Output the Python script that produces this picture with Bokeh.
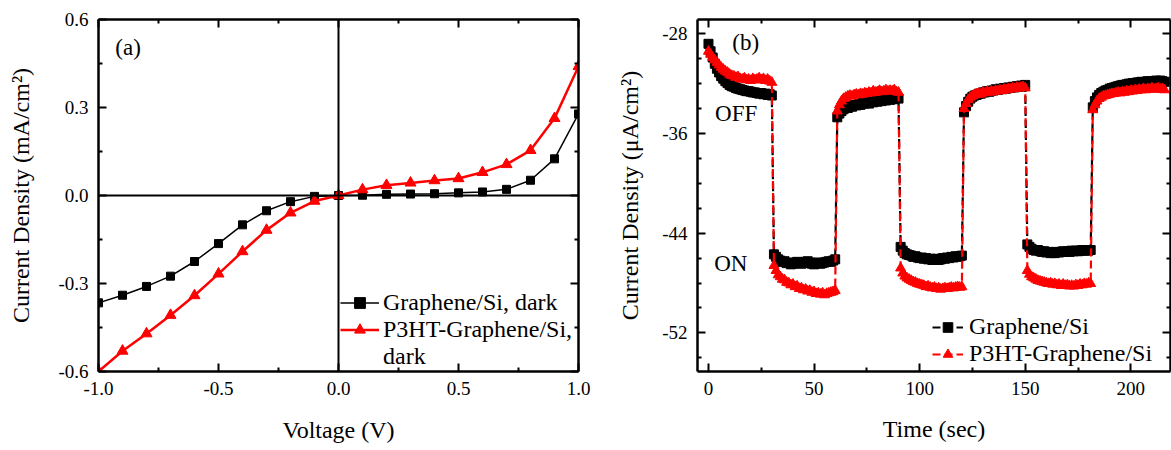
from bokeh.plotting import figure
from bokeh.layouts import row
from bokeh.models import (LinearAxis, Range1d, FixedTicker, PrintfTickFormatter,
                          Span, Label, Legend, LegendItem)
from bokeh.embed import file_html
from bokeh.resources import INLINE

FONT = "Liberation Serif"

# ---------------- panel (a) data ----------------
voltage = [-1.0, -0.9, -0.8, -0.7, -0.6, -0.5, -0.4, -0.3, -0.2, -0.1, 0.0,
           0.1, 0.2, 0.3, 0.4, 0.5, 0.6, 0.7, 0.8, 0.9, 1.0]
graphene_dark = [-0.366, -0.340, -0.310, -0.275, -0.225, -0.164, -0.100, -0.052, -0.021, -0.003, 0.0,
                 0.001, 0.004, 0.005, 0.006, 0.009, 0.012, 0.021, 0.052, 0.125, 0.278]
p3ht_dark = [-0.600, -0.530, -0.471, -0.408, -0.341, -0.267, -0.191, -0.118, -0.059, -0.019, 0.0,
             0.020, 0.035, 0.043, 0.051, 0.058, 0.079, 0.106, 0.154, 0.263, 0.440]
v_ticks = [-1.0, -0.5, 0.0, 0.5, 1.0]
v_minor = [-0.75, -0.25, 0.25, 0.75]
ja_ticks = [-0.6, -0.3, 0.0, 0.3, 0.6]
ja_minor = [-0.45, -0.15, 0.15, 0.45]

# ---------------- panel (b) data (1 s sampling) ----------------
graphene_si = [
    # OFF 0-30 s
    -28.8, -29.4, -29.9, -30.4, -30.8, -31.1, -31.4, -31.6, -31.8, -31.95,
    -32.1, -32.2, -32.25, -32.35, -32.4, -32.45, -32.5, -32.55, -32.6, -32.6,
    -32.65, -32.7, -32.7, -32.75, -32.8, -32.75, -32.85, -32.8, -32.9, -32.85, -32.95,
    # ON 31-60 s
    -45.7, -45.9, -46.1, -46.2, -46.3, -46.25, -46.4, -46.35, -46.5, -46.45,
    -46.4, -46.3, -46.35, -46.45, -46.4, -46.3, -46.25, -46.35, -46.45, -46.5,
    -46.4, -46.35, -46.45, -46.4, -46.35, -46.3, -46.25, -46.3, -46.2, -46.1,
    # OFF 61-90 s
    -34.7, -34.4, -34.2, -34.05, -33.95, -33.95, -33.8, -33.85, -33.7, -33.75,
    -33.65, -33.7, -33.55, -33.6, -33.5, -33.6, -33.45, -33.5, -33.4, -33.45,
    -33.35, -33.4, -33.3, -33.35, -33.25, -33.3, -33.2, -33.25, -33.15, -33.2,
    # ON 91-120 s
    -45.1, -45.4, -45.6, -45.7, -45.75, -45.8, -45.9, -45.85, -45.95, -46.0,
    -45.95, -46.05, -46.0, -46.1, -46.05, -46.15, -46.1, -46.05, -46.15, -46.1,
    -46.0, -46.05, -45.95, -46.0, -45.9, -45.95, -45.85, -45.9, -45.85, -45.8,
    # OFF 121-150 s
    -34.3, -33.8, -33.45, -33.2, -33.05, -32.95, -32.9, -32.8, -32.8, -32.7,
    -32.7, -32.6, -32.65, -32.55, -32.55, -32.45, -32.5, -32.4, -32.45, -32.35,
    -32.4, -32.3, -32.35, -32.25, -32.3, -32.2, -32.25, -32.15, -32.2, -32.1,
    # ON 151-181 s
    -44.9, -45.1, -45.25, -45.35, -45.4, -45.35, -45.45, -45.5, -45.45, -45.55,
    -45.5, -45.6, -45.55, -45.6, -45.5, -45.55, -45.5, -45.45, -45.5, -45.45,
    -45.5, -45.4, -45.45, -45.4, -45.45, -45.4, -45.35, -45.4, -45.35, -45.4, -45.35,
    # OFF 182-216 s
    -33.9, -33.4, -33.1, -32.9, -32.75, -32.65, -32.55, -32.5, -32.4, -32.35,
    -32.3, -32.25, -32.2, -32.15, -32.1, -32.1, -32.05, -32.0, -32.0, -31.95,
    -31.95, -31.9, -31.9, -31.85, -31.9, -31.85, -31.8, -31.85, -31.8, -31.8,
    -31.75, -31.8, -31.75, -31.8, -31.85,
]
p3ht_si = [
    # OFF 0-30 s
    -29.4, -29.65, -29.9, -30.1, -30.3, -30.5, -30.7, -30.85, -31.0, -31.1,
    -31.25, -31.35, -31.4, -31.5, -31.45, -31.6, -31.65, -31.55, -31.7, -31.65,
    -31.75, -31.6, -31.7, -31.65, -31.55, -31.7, -31.6, -31.75, -31.65, -31.8, -31.9,
    # ON 31-60 s
    -46.6, -47.0, -47.35, -47.5, -47.7, -47.75, -47.95, -48.0, -48.15, -48.1,
    -48.3, -48.25, -48.45, -48.4, -48.55, -48.5, -48.65, -48.6, -48.75, -48.7,
    -48.85, -48.8, -48.9, -48.8, -48.95, -48.85, -48.8, -48.75, -48.7, -48.6,
    # OFF 61-90 s
    -34.2, -33.7, -33.4, -33.2, -33.1, -33.0, -32.95, -33.0, -32.9, -32.85,
    -32.9, -32.8, -32.85, -32.75, -32.8, -32.7, -32.75, -32.6, -32.7, -32.65,
    -32.55, -32.65, -32.6, -32.5, -32.6, -32.55, -32.6, -32.5, -32.65, -32.7,
    # ON 91-120 s
    -46.8, -47.2, -47.45, -47.6, -47.7, -47.8, -47.9, -47.95, -48.05, -48.1,
    -48.15, -48.2, -48.3, -48.25, -48.35, -48.4, -48.35, -48.45, -48.4, -48.5,
    -48.45, -48.4, -48.45, -48.4, -48.35, -48.4, -48.35, -48.3, -48.35, -48.3,
    # OFF 121-150 s
    -34.0, -33.6, -33.3, -33.1, -33.0, -32.9, -32.85, -32.8, -32.85, -32.7,
    -32.75, -32.65, -32.7, -32.6, -32.65, -32.55, -32.6, -32.5, -32.55, -32.45,
    -32.5, -32.4, -32.45, -32.35, -32.4, -32.3, -32.35, -32.3, -32.25, -32.35,
    # ON 151-181 s
    -47.0, -47.3, -47.5, -47.6, -47.7, -47.8, -47.85, -47.9, -47.95, -48.0,
    -48.05, -48.0, -48.1, -48.05, -48.15, -48.1, -48.2, -48.1, -48.2, -48.15,
    -48.25, -48.2, -48.25, -48.15, -48.2, -48.1, -48.15, -48.05, -48.1, -48.0, -48.05,
    # OFF 182-216 s
    -34.1, -33.7, -33.4, -33.2, -33.1, -33.0, -32.95, -32.9, -32.85, -32.8,
    -32.8, -32.75, -32.7, -32.75, -32.65, -32.7, -32.6, -32.65, -32.55, -32.6,
    -32.5, -32.55, -32.45, -32.5, -32.4, -32.5, -32.4, -32.45, -32.35, -32.45,
    -32.4, -32.35, -32.45, -32.4, -32.5,
]
time_black = list(range(len(graphene_si)))
time_red = list(range(len(p3ht_si)))
t_ticks = [0, 50, 100, 150, 200]
t_minor = [25, 75, 125, 175]
jb_ticks = [-52, -44, -36, -28]
jb_minor = [-54, -50, -48, -46, -42, -40, -38, -34, -32, -30]


def style_axis(ax, show_labels=True):
    ax.axis_line_width = 2.5
    ax.axis_line_color = "black"
    ax.major_tick_in = 8
    ax.major_tick_out = 0
    ax.minor_tick_in = 4
    ax.minor_tick_out = 0
    ax.major_tick_line_width = 2
    ax.minor_tick_line_width = 2
    ax.major_label_text_font = FONT
    ax.axis_label_text_font = FONT
    ax.axis_label_text_font_style = "normal"
    ax.axis_label_text_color = "black"
    ax.axis_label_text_font_size = "24px"
    if show_labels:
        ax.major_label_text_color = "black"
        ax.major_label_text_font_size = "19px"
        ax.major_label_standoff = 10
    else:
        # mirror axis: ticks only, labels not drawn
        ax.major_label_text_color = None
        ax.major_label_text_font_size = "1px"
        ax.major_label_standoff = 0


# ---------------- figure (a) ----------------
pa = figure(width=600, height=450, output_backend="svg", toolbar_location=None,
            x_range=Range1d(-1.0, 1.0), y_range=Range1d(-0.6, 0.6),
            min_border_left=98, min_border_right=22, min_border_top=19, min_border_bottom=76,
            x_axis_location=None, y_axis_location=None)
pa.outline_line_color = None
pa.grid.visible = False

xt = FixedTicker(ticks=v_ticks, minor_ticks=v_minor)
yt = FixedTicker(ticks=ja_ticks, minor_ticks=ja_minor)
ax_b = LinearAxis(ticker=xt, formatter=PrintfTickFormatter(format="%.1f"), axis_label="Voltage (V)")
ax_l = LinearAxis(ticker=yt, formatter=PrintfTickFormatter(format="%.1f"),
                  axis_label="Current Density (mA/cm²)")
ax_t = LinearAxis(ticker=xt)
ax_r = LinearAxis(ticker=yt)
style_axis(ax_b); style_axis(ax_l)
style_axis(ax_t, False); style_axis(ax_r, False)
ax_b.axis_label_standoff = 19
ax_l.axis_label_standoff = 21
pa.add_layout(ax_b, "below"); pa.add_layout(ax_l, "left")
pa.add_layout(ax_t, "above"); pa.add_layout(ax_r, "right")

pa.add_layout(Span(location=0, dimension="height", line_color="black", line_width=2))
pa.add_layout(Span(location=0, dimension="width", line_color="black", line_width=2))

la1 = pa.line(voltage, graphene_dark, line_color="black", line_width=1.5)
sa1 = pa.scatter(voltage, graphene_dark, marker="square", size=8, color="black")
la2 = pa.line(voltage, p3ht_dark, line_color="red", line_width=2.5)
sa2 = pa.scatter(voltage, p3ht_dark, marker="triangle", size=11, color="red")
dummy_a = pa.line(x=[], y=[], line_alpha=0)

leg_a = Legend(items=[LegendItem(label="Graphene/Si, dark", renderers=[la1, sa1]),
                      LegendItem(label="P3HT-Graphene/Si,", renderers=[la2, sa2]),
                      LegendItem(label="dark", renderers=[dummy_a])],
               location=(242, 1), background_fill_alpha=0, border_line_alpha=0,
               padding=0, margin=0, spacing=0, glyph_width=39, glyph_height=27,
               label_height=27, label_standoff=4, label_text_font=FONT,
               label_text_font_size="24px", label_text_color="black")
pa.add_layout(leg_a)
pa.add_layout(Label(x=-0.93, y=0.505, text="(a)", text_font=FONT, text_font_size="23px",
                    text_baseline="middle", text_color="black"))

# ---------------- figure (b) ----------------
pb = figure(width=571, height=450, output_backend="svg", toolbar_location=None,
            x_range=Range1d(-5.2, 218.8), y_range=Range1d(-55.1, -26.85),
            min_border_left=97, min_border_right=1, min_border_top=19, min_border_bottom=79,
            x_axis_location=None, y_axis_location=None)
pb.outline_line_color = None
pb.grid.visible = False

xt2 = FixedTicker(ticks=t_ticks, minor_ticks=t_minor)
yt2 = FixedTicker(ticks=jb_ticks, minor_ticks=jb_minor)
bx_b = LinearAxis(ticker=xt2, formatter=PrintfTickFormatter(format="%d"), axis_label="Time (sec)")
bx_l = LinearAxis(ticker=yt2, formatter=PrintfTickFormatter(format="%d"),
                  axis_label="Current Density (μA/cm²)")
bx_t = LinearAxis(ticker=xt2)
bx_r = LinearAxis(ticker=yt2)
style_axis(bx_b); style_axis(bx_l)
style_axis(bx_t, False); style_axis(bx_r, False)
bx_b.axis_label_standoff = 18
bx_l.axis_label_standoff = 16
pb.add_layout(bx_b, "below"); pb.add_layout(bx_l, "left")
pb.add_layout(bx_t, "above"); pb.add_layout(bx_r, "right")

lb1 = pb.line(time_black, graphene_si, line_color="black", line_width=2.2, line_dash="8 4")
sb1 = pb.scatter(time_black, graphene_si, marker="square", size=9, color="black")
lb2 = pb.line(time_red, p3ht_si, line_color="red", line_width=2.2, line_dash="8 4")
sb2 = pb.scatter(time_red, p3ht_si, marker="triangle", size=10, color="red")

leg_b = Legend(items=[LegendItem(label="Graphene/Si", renderers=[lb1, sb1]),
                      LegendItem(label="P3HT-Graphene/Si", renderers=[lb2, sb2])],
               location=(235, 4), background_fill_alpha=0, border_line_alpha=0,
               padding=0, margin=0, spacing=0, glyph_width=31, glyph_height=24,
               label_height=24, label_standoff=6, label_text_font=FONT,
               label_text_font_size="24px", label_text_color="black")
pb.add_layout(leg_b)
pb.add_layout(Label(x=11.3, y=-28.7, text="(b)", text_font=FONT, text_font_size="23px",
                    text_baseline="middle", text_color="black"))
pb.add_layout(Label(x=3.1, y=-34.36, text="OFF", text_font=FONT, text_font_size="23px",
                    text_baseline="middle", text_color="black"))
pb.add_layout(Label(x=2.7, y=-46.45, text="ON", text_font=FONT, text_font_size="23px",
                    text_baseline="middle", text_color="black"))

layout = row(pa, pb, spacing=0)
open("out.html", "w").write(file_html(layout, INLINE))
